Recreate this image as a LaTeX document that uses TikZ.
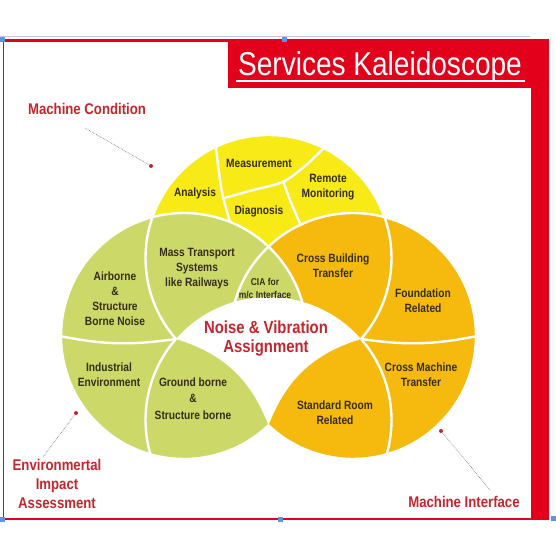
\documentclass[tikz,border=0pt]{standalone}
\usepackage{fontspec}
\setmainfont{Liberation Sans}
\newfontfamily\kalsf[FakeStretch=0.85]{Liberation Sans}
\usepackage{tikz}
\usetikzlibrary{calc}
\definecolor{kal_yellow}{RGB}{248, 234, 22}
\definecolor{kal_green}{RGB}{204, 217, 104}
\definecolor{kal_orange}{RGB}{246, 186, 14}
\definecolor{kal_red}{RGB}{226, 0, 26}
\definecolor{kal_label}{RGB}{196, 38, 46}
\definecolor{kal_text}{RGB}{52, 46, 26}
\definecolor{kal_handle}{RGB}{90, 150, 225}
\definecolor{kal_select}{RGB}{205, 195, 235}

\begin{document}
\begin{tikzpicture}[x=1pt, y=1pt,
    lbl/.style={font=\kalsf\bfseries\fontsize{12}{15}\selectfont,
                text=kal_text, align=center},
    outer/.style={font=\kalsf\bfseries\fontsize{15.5}{19}\selectfont,
                  text=kal_label, align=center},
    divider/.style={draw=white, line width=2.4pt},
    leader/.style={densely dotted, line width=0.6pt, draw=black!60},
    reddot/.style={circle, fill=kal_label, inner sep=0pt, minimum size=4pt},
    handle/.style={rectangle, fill=kal_handle, inner sep=0pt, minimum size=5pt},
  ]
    \useasboundingbox (0,0) rectangle (556,556);

    % frame and title bar
    \draw[kal_select, line width=1.2pt] (0,519.5) -- (530,519.5);
    \fill[kal_red] (3,514) rectangle (549,517);
    \fill[kal_red] (228,468) rectangle (549,517);
    \fill[kal_red] (531,37) rectangle (549,517);
    \draw[kal_red, line width=0.8pt] (3,516) -- (3,37);
    \draw[kal_red, line width=1.2pt] (3,37) -- (549,37);

    \node[handle] (h1) at (2,516) {};
    \node[handle] (h2) at (284,516) {};
    \node[handle] (h3) at (2,36) {};
    \node[handle] (h4) at (280,36) {};
    \node[handle] (h5) at (553,37) {};

    \node[font=\kalsf\fontsize{33}{36}\selectfont, text=white, anchor=base]
      (title) at (380,480) {Services Kaleidoscope};
    \draw[white, line width=1.2pt] (236,475) -- (525,475);

    % the four circles
    \coordinate (cy) at (268.5,298);
    \coordinate (cb) at (268.5,136);
    \coordinate (cg) at (184,220);
    \coordinate (co) at (353,220);
    \coordinate (L) at (175.9,217);
    \coordinate (R) at (361.1,217);
    \coordinate (B) at (268.5,130.6);

    \fill[kal_yellow] (cy) circle (123);
    \fill[kal_orange] (co) circle (123);
    \fill[kal_green] (cg) circle (123);
    \begin{scope}
      \clip (268.5,0) rectangle (556,217);
      \fill[kal_orange] (co) circle (123);
    \end{scope}

    \draw[divider] (cy) ++(221.2:123) arc[start angle=221.2, end angle=-41.2, radius=123];
    \draw[divider] (cg) ++(-46.6:123) arc[start angle=-46.6, end angle=-346, radius=123];
    \draw[divider] (co) ++(-133.4:123) arc[start angle=-133.4, end angle=166, radius=123];
    \draw[divider] (cb) ++(138.8:123) arc[start angle=138.8, end angle=200, radius=123];
    \draw[divider] (cb) ++(41.2:123) arc[start angle=41.2, end angle=-20, radius=123];
    \draw[divider] (55,221) to[bend right=10] (L);
    \draw[divider] (R) to[bend right=10] (482,221);
    \draw[divider] plot[smooth] coordinates {(215,416) (220,376) (223.3,357.7) (230,334)};
    \draw[divider] plot[smooth] coordinates {(223.3,357.7) (253.3,366) (283.3,374.3) (305,390) (326,410)};
    \draw[divider] plot[smooth] coordinates {(283.3,374.3) (290,356) (301,330)};

    \fill[white] (L) arc[start angle=138.8, end angle=41.2, radius=123]
      to[bend right=26] (B) to[bend right=26] (L);

    % labels in the segments
    \node[lbl] (measurement) at (259,393) {Measurement};
    \node[lbl] (analysis) at (195,363) {Analysis};
    \node[lbl] (remote) at (328,369) {Remote\\Monitoring};
    \node[lbl] (diagnosis) at (259,345) {Diagnosis};
    \node[lbl] (mass) at (197,287) {Mass Transport\\Systems\\like Railways};
    \node[lbl] (airborne) at (115,257) {Airborne\\\&\\Structure\\Borne Noise};
    \node[lbl, font=\kalsf\bfseries\fontsize{10}{13}\selectfont] (cia) at (265,267.5)
      {CIA for\\m/c Interface};
    \node[lbl] (crossbuild) at (333,290) {Cross Building\\Transfer};
    \node[lbl] (foundation) at (423,255) {Foundation\\Related};
    \node[lbl] (industrial) at (109,181.5) {Industrial\\Environment};
    \node[lbl, font=\kalsf\bfseries\fontsize{12}{16.5}\selectfont] (ground) at (193,157.5)
      {Ground borne\\\&\\Structure borne};
    \node[lbl] (crossmach) at (421,181) {Cross Machine\\Transfer};
    \node[lbl] (standard) at (335,143.5) {Standard Room\\Related};
    \node[lbl, font=\kalsf\bfseries\fontsize{17.5}{19}\selectfont, text=kal_label]
      (noise) at (266,217) {Noise \& Vibration\\Assignment};

    % outer labels
    \node[outer] (machcond) at (87,447) {Machine Condition};
    \node[outer] (envimpact) at (57,72) {Environmertal\\Impact\\Assessment};
    \node[outer] (machint) at (464,54) {Machine Interface};

    \coordinate (mctail) at (85,428);
    \node[reddot] (mcdot) at (151,390) {};
    \draw[leader] (mctail) -- (mcdot);
    \coordinate (eitail) at (43,99);
    \node[reddot] (eidot) at (76,143) {};
    \draw[leader] (eitail) -- (eidot);
    \coordinate (mitail) at (490,66);
    \node[reddot] (midot) at (441,125) {};
    \draw[leader] (mitail) -- (midot);
\end{tikzpicture}
\end{document}
